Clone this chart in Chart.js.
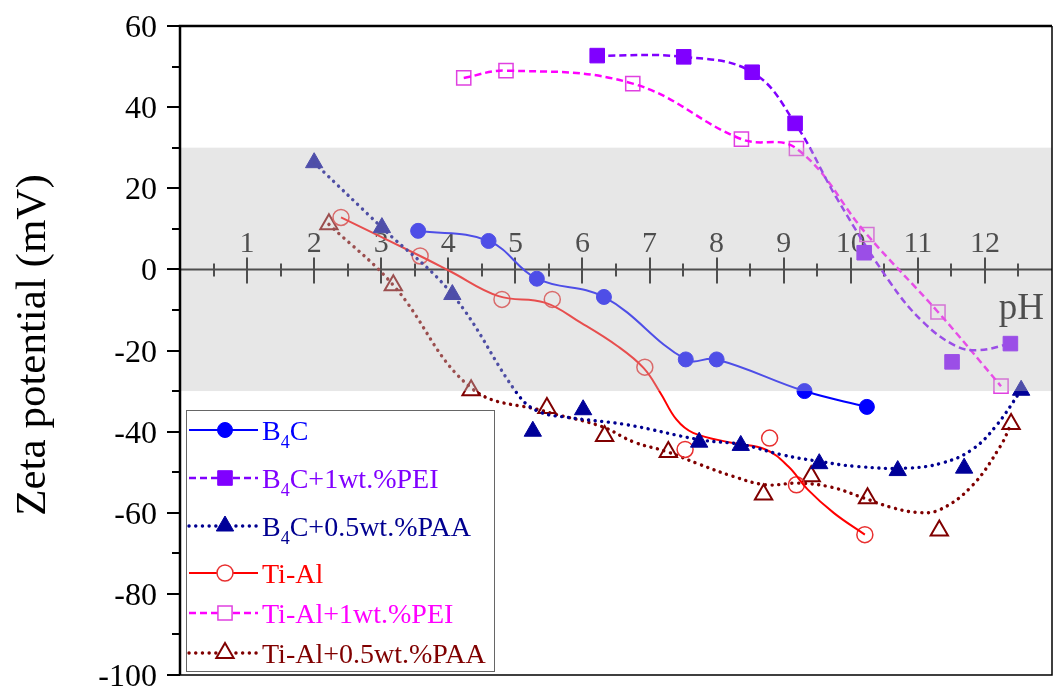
<!DOCTYPE html>
<html lang="en">

<head>
	<meta charset="UTF-8">
	<title>Zeta potential vs pH</title>
	<script src="https://cdn.jsdelivr.net/npm/chart.js"></script>
	<style>
		* {
			margin: 0;
			padding: 0;
			box-sizing: border-box;
		}

		body {
			background: #fff;
		}

		#wrap {
			width: 1064px;
			height: 693px;
		}
	</style>
</head>

<body>
	<div id="wrap">
		<canvas id="zeta" width="1064" height="693"></canvas>
	</div>

	<script>
		// values: pH and zeta potential (mV)
		const b4cPH = [3.55, 4.60, 5.32, 6.32, 7.54, 8.00, 9.31, 10.24];
		const b4cZeta = [9.5, 7.0, -2.3, -6.8, -22.2, -22.2, -30.0, -33.9];

		const b4cPeiPH = [6.22, 7.51, 8.53, 9.17, 10.20, 11.51, 12.38];
		const b4cPeiZeta = [52.7, 52.4, 48.6, 36.0, 4.1, -22.8, -18.3];
		// fitted curve as drawn in the figure
		const b4cPeiFitPH = [6.22, 7.51, 8.53, 9.17, 9.80, 10.59, 11.08, 11.57, 11.91, 12.38];
		const b4cPeiFitZeta = [52.7, 52.4, 48.6, 36.0, 17.3, -3.3, -13.0, -18.9, -19.9, -18.3];

		const b4cPaaPH = [2.00, 3.01, 4.06, 5.26, 6.01, 7.74, 8.36, 9.53, 10.70, 11.69, 12.54];
		const b4cPaaZeta = [26.3, 10.3, -6.2, -39.9, -34.6, -42.6, -43.4, -47.9, -49.6, -49.0, -29.8];
		const b4cPaaFitPH = [2.00, 3.01, 4.06, 5.04, 5.34, 5.78, 6.66, 7.75, 8.38, 8.97, 9.51, 10.10, 10.83, 11.37, 11.81, 12.16, 12.54];
		const b4cPaaFitZeta = [26.3, 10.3, -6.2, -30.9, -35.0, -36.5, -38.3, -42.0, -43.2, -45.7, -47.3, -48.6, -49.0, -47.7, -44.4, -38.7, -29.8];

		const tiAlPH = [2.40, 3.58, 4.80, 5.55, 6.93, 7.53, 8.79, 9.19, 10.21];
		const tiAlZeta = [12.8, 3.3, -7.4, -7.4, -24.1, -44.4, -41.6, -53.1, -65.4];
		const tiAlFitPH = [2.40, 3.58, 4.02, 4.75, 5.44, 5.98, 6.52, 6.91, 7.16, 7.40, 7.65, 8.24, 8.73, 9.07, 9.36, 9.75, 10.21];
		const tiAlFitZeta = [12.8, 3.3, -0.4, -6.6, -8.2, -13.2, -18.9, -24.3, -30.4, -37.0, -40.3, -42.8, -44.4, -48.6, -54.3, -60.1, -65.4];

		const tiAlPeiPH = [4.23, 4.86, 6.75, 8.37, 9.19, 10.24, 11.30, 12.24];
		const tiAlPeiZeta = [47.2, 49.0, 45.8, 32.1, 29.8, 8.6, -10.5, -28.8];

		const tiAlPaaPH = [2.22, 3.18, 4.34, 5.47, 6.33, 7.28, 8.70, 9.41, 10.25, 11.32, 12.39];
		const tiAlPaaZeta = [11.1, -3.9, -29.8, -34.2, -41.1, -45.0, -55.5, -51.0, -56.4, -64.4, -38.1];
		const tiAlPaaFitPH = [2.22, 3.18, 4.34, 5.44, 6.28, 6.77, 7.25, 7.75, 8.24, 8.73, 9.22, 9.71, 10.20, 10.59, 10.98, 11.32, 11.80, 12.23, 12.39];
		const tiAlPaaFitZeta = [11.1, -3.9, -29.2, -35.0, -38.7, -42.6, -44.9, -48.1, -51.0, -53.1, -52.7, -53.7, -56.4, -58.6, -59.9, -59.3, -53.5, -43.6, -38.1];

		// axes
		const xTicks = [1, 2, 3, 4, 5, 6, 7, 8, 9, 10, 11, 12];
		const yTicks = [60, 40, 20, 0, -20, -40, -60, -80, -100];
		const stableBand = [-30, 30];

		const serif = "'Liberation Serif', 'Times New Roman', serif";
		const dotted = [0.1, 6.6];
		const dashed = [7, 4];

		// line / marker styling per series (legend order)
		const series = [
			{ name: ['B', '4', 'C'], color: '#0000ff', px: b4cPH, py: b4cZeta, fx: b4cPH, fy: b4cZeta,
				dash: [], cap: 'butt', width: 2, shape: 'circle', r: 7.5, filled: true, mark: '#0000ff', bw: 1 },
			{ name: ['B', '4', 'C+1wt.%PEI'], color: '#8000ff', px: b4cPeiPH, py: b4cPeiZeta, fx: b4cPeiFitPH, fy: b4cPeiFitZeta,
				dash: dashed, cap: 'butt', width: 2.5, shape: 'rect', r: 10.3, filled: true, mark: '#8000ff', bw: 1 },
			{ name: ['B', '4', 'C+0.5wt.%PAA'], color: '#000090', px: b4cPaaPH, py: b4cPaaZeta, fx: b4cPaaFitPH, fy: b4cPaaFitZeta,
				dash: dotted, cap: 'round', width: 3.4, shape: 'triangle', r: 10, filled: true, mark: '#000099', bw: 1 },
			{ name: ['Ti-Al', '', ''], color: '#ff0000', px: tiAlPH, py: tiAlZeta, fx: tiAlFitPH, fy: tiAlFitZeta,
				dash: [], cap: 'butt', width: 2, shape: 'circle', r: 8, filled: false, mark: '#e83030', bw: 1.5 },
			{ name: ['Ti-Al+1wt.%PEI', '', ''], color: '#ff00ff', px: tiAlPeiPH, py: tiAlPeiZeta, fx: tiAlPeiPH, fy: tiAlPeiZeta,
				dash: dashed, cap: 'butt', width: 2.5, shape: 'rect', r: 10, filled: false, mark: '#e040e0', bw: 1.5 },
			{ name: ['Ti-Al+0.5wt.%PAA', '', ''], color: '#800000', px: tiAlPaaPH, py: tiAlPaaZeta, fx: tiAlPaaFitPH, fy: tiAlPaaFitZeta,
				dash: dotted, cap: 'round', width: 3.4, shape: 'triangle', r: 10, filled: false, mark: '#800000', bw: 2 }
		];

		const pairs = (xs, ys) => xs.map((v, i) => ({ x: v, y: ys[i] }));

		const datasets = [];
		series.forEach(s => {
			datasets.push({
				data: pairs(s.fx, s.fy),
				showLine: true,
				borderColor: s.color,
				borderWidth: s.width,
				borderDash: s.dash,
				borderCapStyle: s.cap,
				tension: 0.4,
				pointRadius: 0,
				fill: false
			});
			datasets.push({
				data: pairs(s.px, s.py),
				showLine: false,
				pointStyle: s.shape,
				pointRadius: s.r,
				pointBackgroundColor: s.filled ? s.mark : 'rgba(0,0,0,0)',
				pointBorderColor: s.mark,
				pointBorderWidth: s.bw
			});
		});

		// legend rows (y centres) inside the lower-left box
		const legendBox = { left: 186, top: 410, right: 494, bottom: 671 };
		const legendRows = [430, 478, 526, 573, 613, 653];

		function drawMarker(ctx, s, x, y, fillColor) {
			ctx.save();
			ctx.setLineDash([]);
			ctx.fillStyle = fillColor;
			ctx.strokeStyle = s.mark;
			ctx.lineWidth = s.bw;
			Chart.helpers.drawPoint(ctx, { pointStyle: s.shape, radius: s.r, rotation: 0, borderWidth: s.bw }, x, y);
			ctx.restore();
		}

		const decor = {
			id: 'decor',
			beforeDatasetsDraw(chart) {
				// x axis crossing at zero, labels above it
				const { ctx, chartArea: a, scales: { x, y } } = chart;
				const y0 = y.getPixelForValue(0);
				ctx.save();
				ctx.strokeStyle = '#000';
				ctx.lineWidth = 2;
				ctx.beginPath();
				ctx.moveTo(a.left, y0);
				ctx.lineTo(a.right, y0);
				ctx.stroke();
				for (let v = 0.5; v < x.max; v += 0.5) {
					const px = Math.round(x.getPixelForValue(v));
					const major = Number.isInteger(v);
					ctx.beginPath();
					ctx.moveTo(px, y0 - (major ? 12 : 6));
					ctx.lineTo(px, y0 + (major ? 14 : 7));
					ctx.stroke();
				}
				ctx.fillStyle = '#000';
				ctx.font = `30px ${serif}`;
				ctx.textAlign = 'center';
				ctx.textBaseline = 'alphabetic';
				xTicks.forEach(t => ctx.fillText(String(t), x.getPixelForValue(t), y0 - 17));
				ctx.font = `37px ${serif}`;
				ctx.textAlign = 'right';
				ctx.fillText('pH', a.right - 8, y0 + 50);
				ctx.restore();
			},
			afterDatasetsDraw(chart) {
				// translucent grey band over the data
				const { ctx, chartArea: a, scales: { y } } = chart;
				const top = y.getPixelForValue(stableBand[1]);
				const bot = y.getPixelForValue(stableBand[0]);
				ctx.save();
				ctx.fillStyle = 'rgba(196,196,196,0.4)';
				ctx.fillRect(a.left + 1, top, a.right - a.left - 1, bot - top);
				ctx.restore();
			},
			afterDraw(chart) {
				const { ctx, chartArea: a, scales: { y } } = chart;
				ctx.save();
				ctx.strokeStyle = '#000';
				// frame
				ctx.lineWidth = 2.5;
				ctx.beginPath();
				ctx.moveTo(a.left, a.bottom);
				ctx.lineTo(a.left, a.top);
				ctx.lineTo(a.right, a.top);
				ctx.stroke();
				ctx.lineWidth = 1.5;
				ctx.beginPath();
				ctx.moveTo(a.right, a.top);
				ctx.lineTo(a.right, a.bottom);
				ctx.lineTo(a.left, a.bottom);
				ctx.stroke();

				// y ticks and labels
				ctx.lineWidth = 2;
				for (let v = y.min; v <= y.max; v += 10) {
					const py = Math.round(y.getPixelForValue(v));
					const len = v % 20 === 0 ? 13 : 8;
					ctx.beginPath();
					ctx.moveTo(a.left - len, py);
					ctx.lineTo(a.left, py);
					ctx.stroke();
				}
				ctx.fillStyle = '#000';
				ctx.font = `32px ${serif}`;
				ctx.textAlign = 'right';
				ctx.textBaseline = 'alphabetic';
				yTicks.forEach(t => ctx.fillText(String(t), a.left - 23, y.getPixelForValue(t) + 11));

				// y title
				ctx.save();
				ctx.translate(45, 345);
				ctx.rotate(-Math.PI / 2);
				ctx.textAlign = 'center';
				ctx.font = `43px ${serif}`;
				ctx.fillText('Zeta potential (mV)', 0, 0);
				ctx.restore();

				// legend
				const b = legendBox;
				ctx.fillStyle = '#fff';
				ctx.fillRect(b.left, b.top, b.right - b.left, b.bottom - b.top);
				ctx.strokeStyle = '#666';
				ctx.lineWidth = 1;
				ctx.strokeRect(b.left + 0.5, b.top + 0.5, b.right - b.left, b.bottom - b.top);
				series.forEach((s, i) => {
					const ry = legendRows[i];
					ctx.save();
					ctx.strokeStyle = s.color;
					ctx.lineWidth = s.width;
					ctx.lineCap = s.cap;
					ctx.setLineDash(s.dash);
					ctx.beginPath();
					ctx.moveTo(b.left + 3, ry);
					ctx.lineTo(b.left + 72, ry);
					ctx.stroke();
					ctx.restore();
					drawMarker(ctx, s, b.left + 39, ry, s.filled ? s.mark : '#fff');

					let tx = b.left + 76;
					const base = ry + 10;
					ctx.fillStyle = s.color;
					ctx.textAlign = 'left';
					ctx.font = `28px ${serif}`;
					ctx.fillText(s.name[0], tx, base);
					tx += ctx.measureText(s.name[0]).width;
					if (s.name[1]) {
						ctx.font = `18px ${serif}`;
						ctx.fillText(s.name[1], tx, base + 8);
						tx += ctx.measureText(s.name[1]).width;
						ctx.font = `28px ${serif}`;
						ctx.fillText(s.name[2], tx, base);
					}
				});
				ctx.restore();
			}
		};

		new Chart(document.getElementById('zeta'), {
			type: 'scatter',
			data: { datasets: datasets },
			options: {
				responsive: false,
				animation: false,
				events: [],
				layout: { padding: { left: 180, right: 1, top: 26, bottom: 18 } },
				plugins: { legend: { display: false }, tooltip: { enabled: false } },
				scales: {
					x: { type: 'linear', min: 0, max: 13, display: false },
					y: { type: 'linear', min: -100, max: 60, display: false }
				}
			},
			plugins: [decor]
		});
	</script>
</body>

</html>
